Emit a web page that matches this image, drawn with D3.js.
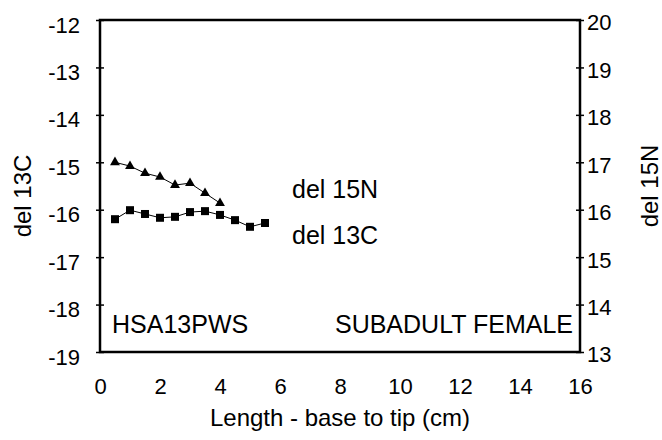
<!DOCTYPE html>
<html>
<head>
<meta charset="utf-8">
<script src="https://cdn.jsdelivr.net/npm/d3@7"></script>
<style>
  body { margin: 0; background: #fff; }
  svg { font-family: "Liberation Sans", Arial, sans-serif; }
  .frame { fill: none; stroke: #000; stroke-width: 2.5; }
  .tick line { stroke: #000; stroke-width: 1.5; }
  .tick text { font-size: 22px; fill: #000; }
  .xax .tick text { font-size: 22px; }
  .lab { font-size: 24px; fill: #000; }
  .note { font-size: 25px; fill: #000; }
</style>
</head>
<body>
<script>
// hair section, 0.5 cm steps from base
const lengthN = [0.5, 1, 1.5, 2, 2.5, 3, 3.5, 4];
const del15N = [17.0, 16.92, 16.77, 16.69, 16.52, 16.56, 16.35, 16.14];

const lengthC = [0.5, 1, 1.5, 2, 2.5, 3, 3.5, 4, 4.5, 5, 5.5];
const del13C = [-16.2, -16.01, -16.09, -16.17, -16.15, -16.05, -16.03, -16.11, -16.22, -16.36, -16.28];

const xTicks = [0, 2, 4, 6, 8, 10, 12, 14, 16];
const yTicksC = [-12, -13, -14, -15, -16, -17, -18, -19];
const yTicksN = [20, 19, 18, 17, 16, 15, 14, 13];

const width = 662,
  height = 440,
  margin = { top: 20, right: 82, bottom: 88, left: 100 };

const x = d3.scaleLinear([0, 16], [margin.left, width - margin.right]);
const yC = d3.scaleLinear([-19, -12], [height - margin.bottom, margin.top]);
const yN = d3.scaleLinear([13, 20], [height - margin.bottom, margin.top]);

const fmt = d => String(d); // plain hyphen, no unicode minus

const svg = d3
  .select("body")
  .append("svg")
    .attr("width", width)
    .attr("height", height);

// left axis, ticks cross the line
const left = svg
  .append("g")
    .attr("transform", "translate(" + margin.left + ",0)")
    .call(d3.axisLeft(yC).tickValues(yTicksC).tickFormat(fmt).tickSize(4).tickPadding(16));
left.select(".domain").remove();
left.selectAll(".tick line").attr("x2", 4).attr("x1", -4);
left.selectAll(".tick text").attr("dy", "0.55em");

const right = svg
  .append("g")
    .attr("transform", "translate(" + (width - margin.right) + ",0)")
    .call(d3.axisRight(yN).tickValues(yTicksN).tickFormat(fmt).tickSize(4).tickPadding(3));
right.select(".domain").remove();
right.selectAll(".tick line").attr("x1", -4).attr("x2", 4);
right.selectAll(".tick text").attr("dy", "0.45em");

const bottom = svg
  .append("g")
    .attr("class", "xax")
    .attr("transform", "translate(0," + (height - margin.bottom) + ")")
    .call(d3.axisBottom(x).tickValues(xTicks).tickSize(0).tickPadding(26));
bottom.select(".domain").remove();

svg
  .append("rect")
    .attr("class", "frame")
    .attr("x", margin.left)
    .attr("y", margin.top)
    .attr("width", width - margin.left - margin.right)
    .attr("height", height - margin.top - margin.bottom);

// axis titles
svg
  .append("text")
    .attr("class", "lab")
    .attr("transform", "translate(31,196) rotate(-90)")
    .attr("text-anchor", "middle")
    .text("del 13C");

svg
  .append("text")
    .attr("class", "lab")
    .attr("transform", "translate(658,186) rotate(-90)")
    .attr("text-anchor", "middle")
    .text("del 15N");

svg
  .append("text")
    .attr("class", "lab")
    .attr("x", (x(0) + x(16)) / 2)
    .attr("y", 426)
    .attr("text-anchor", "middle")
    .text("Length - base to tip (cm)");

// in-plot labels
svg.append("text").attr("class", "note").attr("x", 112).attr("y", 333).text("HSA13PWS");
svg
  .append("text")
    .attr("class", "note")
    .attr("x", 573)
    .attr("y", 333)
    .attr("text-anchor", "end")
    .text("SUBADULT FEMALE");
svg.append("text").attr("class", "note").attr("x", 292).attr("y", 198).text("del 15N");
svg.append("text").attr("class", "note").attr("x", 292).attr("y", 244).text("del 13C");

// series
const nPts = lengthN.map((d, i) => [d, del15N[i]]);
const cPts = lengthC.map((d, i) => [d, del13C[i]]);

svg
  .append("path")
    .attr("fill", "none")
    .attr("stroke", "#000")
    .attr("stroke-width", 1)
    .attr("d", d3.line().x(d => x(d[0])).y(d => yN(d[1]))(nPts));

svg
  .append("path")
    .attr("fill", "none")
    .attr("stroke", "#000")
    .attr("stroke-width", 1)
    .attr("d", d3.line().x(d => x(d[0])).y(d => yC(d[1]))(cPts));

svg
  .selectAll(".tri")
  .data(nPts)
  .enter()
  .append("path")
    .attr("class", "tri")
    .attr("transform", d => "translate(" + x(d[0]) + "," + yN(d[1]) + ")")
    .attr("d", d3.symbol(d3.symbolTriangle, 42)());

svg
  .selectAll(".sq")
  .data(cPts)
  .enter()
  .append("rect")
    .attr("class", "sq")
    .attr("x", d => x(d[0]) - 4)
    .attr("y", d => yC(d[1]) - 4)
    .attr("width", 8)
    .attr("height", 8);
</script>
</body>
</html>
